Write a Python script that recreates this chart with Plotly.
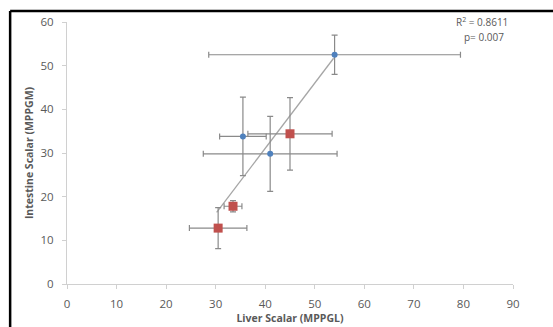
import plotly.graph_objects as go

# Data
blue_x = [54.0, 35.5, 41.0]
blue_y = [52.5, 33.8, 29.8]
blue_xerr = [25.4, 4.7, 13.5]
blue_yerr = [4.5, 9.0, 8.6]

red_x = [45.0, 33.5, 30.5]
red_y = [34.4, 17.8, 12.8]
red_xerr = [8.5, 1.8, 5.8]
red_yerr = [8.3, 1.3, 4.7]

trend_x = [30.2, 53.8]
trend_y = [16.4, 51.7]

x_ticks = [0, 10, 20, 30, 40, 50, 60, 70, 80, 90]
y_ticks = [0, 10, 20, 30, 40, 50, 60]

stats_lines = ["R<sup>2</sup> = 0.8611", "p= 0.007"]

FONT = "Open Sans"
GREY_TXT = "#595959"
ERR = "#8a8a8a"

fig = go.Figure()

fig.add_trace(go.Scatter(
    x=trend_x, y=trend_y, mode="lines",
    line=dict(color="#a6a6a6", width=1.3), showlegend=False, hoverinfo="skip"))

fig.add_trace(go.Scatter(
    x=blue_x, y=blue_y, mode="markers",
    marker=dict(symbol="circle", size=6, color="#4f81bd"),
    error_x=dict(type="data", array=blue_xerr, color=ERR, thickness=1.2, width=3),
    error_y=dict(type="data", array=blue_yerr, color=ERR, thickness=1.2, width=3),
    showlegend=False))

fig.add_trace(go.Scatter(
    x=red_x, y=red_y, mode="markers",
    marker=dict(symbol="square", size=9, color="#c0504d"),
    error_x=dict(type="data", array=red_xerr, color=ERR, thickness=1.2, width=3),
    error_y=dict(type="data", array=red_yerr, color=ERR, thickness=1.2, width=3),
    showlegend=False))

axis_common = dict(
    showgrid=False, zeroline=False, showline=True, linecolor="#d0d0d0", linewidth=1,
    ticks="outside", ticklen=4, tickcolor="#d0d0d0", tickwidth=1,
    tickfont=dict(family=FONT, size=11.5, color=GREY_TXT), automargin=False,
)

fig.update_xaxes(range=[0, 90], tickvals=x_ticks, ticktext=[str(v) for v in x_ticks],
                 ticklabelstandoff=5,
                 title=dict(text="<b>Liver Scalar (MPPGL)</b>",
                            font=dict(family=FONT, size=10.5, color=GREY_TXT), standoff=4),
                 **axis_common)
fig.update_yaxes(range=[0, 60], tickvals=y_ticks, ticktext=[str(v) for v in y_ticks],
                 ticklabelstandoff=6,
                 title=dict(text="<b>Intestine Scalar (MPPGM)</b>",
                            font=dict(family=FONT, size=10.5, color=GREY_TXT), standoff=4),
                 **axis_common)

fig.add_annotation(x=89.4, y=59.9, xref="x", yref="y", text=stats_lines[0],
                   showarrow=False, xanchor="right", yanchor="middle",
                   font=dict(family=FONT, size=10, color=GREY_TXT))
fig.add_annotation(x=88.6, y=56.5, xref="x", yref="y", text=stats_lines[1],
                   showarrow=False, xanchor="right", yanchor="middle",
                   font=dict(family=FONT, size=10, color=GREY_TXT))

# Black frame (left and top edges visible)
fig.add_shape(type="line", xref="paper", yref="paper", x0=-0.1275, x1=1.2,
              y0=1.042, y1=1.042, line=dict(color="black", width=2.5))
fig.add_shape(type="line", xref="paper", yref="paper", x0=-0.1275, x1=-0.1275,
              y0=1.042, y1=-0.2, line=dict(color="black", width=2.5))

fig.update_layout(
    width=553, height=327,
    margin=dict(l=67, r=40, t=22, b=43),
    paper_bgcolor="white", plot_bgcolor="white",
)

fig.write_html("out.html")
